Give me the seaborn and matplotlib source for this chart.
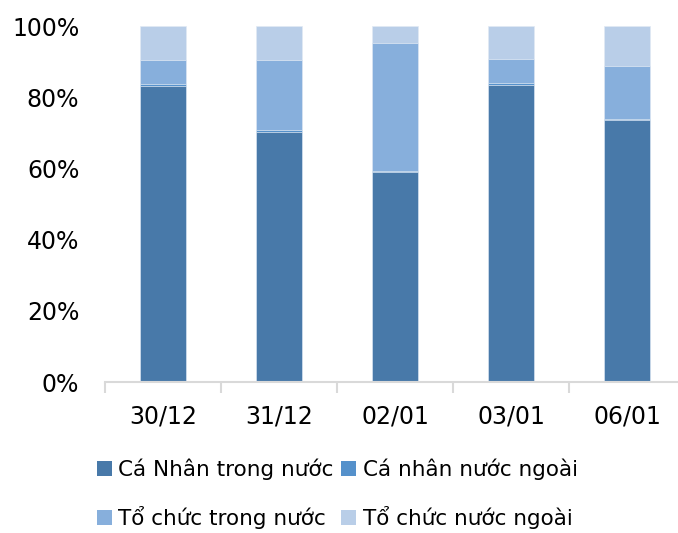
import numpy as np
import pandas as pd
import seaborn as sns
import matplotlib
import matplotlib.pyplot as plt
from matplotlib.patches import Patch
from matplotlib.ticker import FuncFormatter
matplotlib.use('Agg')

# ---- data (share of trading value, %) ----
dates = ["30/12", "31/12", "02/01", "03/01", "06/01"]
ca_nhan_trong_nuoc = [83.2, 70.3, 59.0, 83.5, 73.6]
ca_nhan_nuoc_ngoai = [0.6, 0.4, 0.3, 0.6, 0.3]
to_chuc_trong_nuoc = [6.7, 19.8, 36.0, 6.7, 14.9]
to_chuc_nuoc_ngoai = [9.5, 9.5, 4.7, 9.2, 11.2]

series_names = ["Cá Nhân trong nước", "Cá nhân nước ngoài",
                "Tổ chức trong nước", "Tổ chức nước ngoài"]
colors = ["#4879A9", "#5591CB", "#87AFDC", "#B9CEE8"]

sns.set_style("white")
plt.rcParams['font.family'] = ['DejaVu Sans']
plt.rcParams['text.color'] = 'black'

df = pd.DataFrame({
    "date": dates,
    series_names[0]: ca_nhan_trong_nuoc,
    series_names[1]: ca_nhan_nuoc_ngoai,
    series_names[2]: to_chuc_trong_nuoc,
    series_names[3]: to_chuc_nuoc_ngoai,
})
cum = df[series_names].cumsum(axis=1)

fig = plt.figure(figsize=(6.78, 5.33), dpi=100)
ax = fig.add_axes([105 / 678, 1 - 382 / 533, 1 - 105 / 678, (382 - 26) / 533])

# draw the stack from the top layer down so each lower layer overlays the previous
for name, color in reversed(list(zip(series_names, colors))):
    sns.barplot(x=df["date"], y=cum[name], color=color, saturation=1,
                width=0.4, edgecolor="#E2EAF4", linewidth=0.5, ax=ax)

ax.set_xlabel("")
ax.set_ylabel("")
ax.set_ylim(0, 100)
ax.set_xlim(-0.5, 4.44)
ax.set_yticks(np.arange(0, 101, 20))
ax.yaxis.set_major_formatter(FuncFormatter(lambda v, p: f"{v:.0f}%"))
ax.tick_params(axis="y", left=False, pad=15, labelsize=17, labelcolor="black")
ax.set_xticks(np.arange(-0.5, 4.0, 1.0), minor=True)
ax.tick_params(axis="x", which="major", bottom=False, pad=13, labelsize=17,
               labelcolor="black")
ax.tick_params(axis="x", which="minor", bottom=True, length=8, width=1.5,
               color="#D9D9D9", direction="out")

sns.despine(ax=ax, left=True, top=True, right=True)
ax.spines["bottom"].set_color("#D9D9D9")
ax.spines["bottom"].set_linewidth(1.5)

handles = [Patch(facecolor=c, edgecolor="none") for c in colors]
order = [0, 2, 1, 3]
fig.legend([handles[i] for i in order], [series_names[i] for i in order],
           loc="upper left", bbox_to_anchor=(88 / 678, 1 - 450 / 533),
           ncol=2, frameon=False, fontsize=15.5, handlelength=0.7,
           handleheight=0.7, handletextpad=0.3, columnspacing=0.35,
           labelspacing=1.2, borderaxespad=0)

fig.savefig("out.png", dpi=100)
plt.close(fig)
